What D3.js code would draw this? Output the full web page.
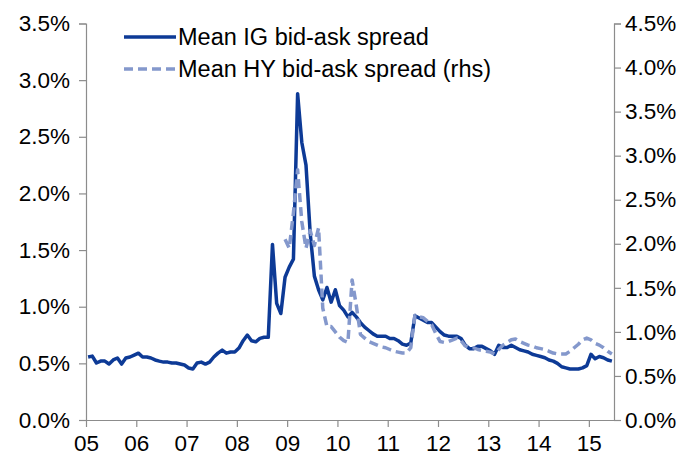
<!DOCTYPE html>
<html>
<head>
<meta charset="utf-8">
<script src="https://cdn.jsdelivr.net/npm/d3@7/dist/d3.min.js"></script>
<style>
html,body{margin:0;padding:0;background:#fff;}
svg{display:block;font-family:"Liberation Sans",Arial,sans-serif;}
</style>
</head>
<body>
<svg id="chart" width="687" height="456"></svg>
<script>
// Monthly data, Jan 2005 .. Jun 2015
const startYear = 2005;
const igSpread = [
0.556,0.564,0.503,0.52,0.52,0.494,0.53,0.547,0.494,0.547,0.556,0.573,
0.59,0.556,0.556,0.547,0.53,0.52,0.511,0.511,0.503,0.503,0.494,0.485,
0.459,0.45,0.503,0.511,0.494,0.511,0.556,0.59,0.617,0.59,0.60,0.60,
0.635,0.70,0.75,0.70,0.69,0.72,0.73,0.73,1.55,1.03,0.94,1.26,
1.35,1.42,2.88,2.45,2.25,1.65,1.27,1.15,1.06,1.17,1.04,1.15,
1.01,0.97,0.91,0.95,0.91,0.86,0.82,0.79,0.76,0.74,0.74,0.74,
0.72,0.72,0.70,0.67,0.66,0.68,0.92,0.90,0.88,0.86,0.86,0.82,
0.78,0.75,0.74,0.74,0.74,0.72,0.66,0.63,0.63,0.65,0.65,0.63,
0.61,0.58,0.66,0.64,0.64,0.66,0.64,0.62,0.61,0.60,0.58,0.57,
0.56,0.55,0.53,0.52,0.50,0.47,0.46,0.45,0.45,0.45,0.46,0.48,
0.58,0.54,0.56,0.55,0.53,0.52
];
// HY series starts Dec 2008 (index 47)
const hyStartIndex = 47;
const hySpread = [
2.05,
1.95,2.35,2.84,2.25,1.95,2.15,1.98,2.18,1.27,1.06,1.06,1.00,
0.94,0.90,0.88,1.59,1.30,0.97,0.93,0.89,0.87,0.85,0.83,0.82,
0.80,0.78,0.77,0.76,0.76,0.82,1.19,1.17,1.16,1.12,1.08,0.98,
0.89,0.88,0.89,0.91,0.93,0.90,0.84,0.82,0.82,0.80,0.79,0.78,
0.77,0.75,0.80,0.85,0.88,0.91,0.92,0.89,0.87,0.85,0.84,0.82,
0.81,0.80,0.78,0.76,0.75,0.75,0.75,0.78,0.82,0.86,0.91,0.93,
0.91,0.87,0.85,0.82,0.78,0.75
];
const yearTicks = [2005,2006,2007,2008,2009,2010,2011,2012,2013,2014,2015];
const yearLabels = ["05","06","07","08","09","10","11","12","13","14","15"];
const leftTicks = [0,0.5,1.0,1.5,2.0,2.5,3.0,3.5];
const rightTicks = [0,0.5,1.0,1.5,2.0,2.5,3.0,3.5,4.0,4.5];
const seriesNames = ["Mean IG bid-ask spread","Mean HY bid-ask spread (rhs)"];

const svg = d3.select("#chart");
const L = 86, R = 614, T = 23.5, B = 420;
const axisColor = "#8c8c8c";
const igColor = "#0d3a96";
const hyColor = "#8498cc";
const fontSize = 22.5;

const x = d3.scaleLinear().domain([2005, 2015.5]).range([L, R]);
const yL = d3.scaleLinear().domain([0, 3.5]).range([B, T]);
const yR = d3.scaleLinear().domain([0, 4.5]).range([B, T]);

const igData = igSpread.map((v,i)=>({t: startYear + (i+0.5)/12, v}));
const hyData = hySpread.map((v,i)=>({t: startYear + (hyStartIndex+i+0.5)/12, v}));

// Left axis
const gL = svg.append("g").attr("transform",`translate(${L},0)`)
  .call(d3.axisLeft(yL).tickValues(leftTicks).tickSize(7).tickPadding(8)
    .tickFormat(d=>d.toFixed(1)+"%"));
// Right axis
const gR = svg.append("g").attr("transform",`translate(${R},0)`)
  .call(d3.axisRight(yR).tickValues(rightTicks).tickSize(7).tickPadding(4)
    .tickFormat(d=>d.toFixed(1)+"%"));
// Bottom axis
const gB = svg.append("g").attr("transform",`translate(0,${B})`)
  .call(d3.axisBottom(x).tickValues(yearTicks).tickSize(7).tickPadding(6)
    .tickFormat((d,i)=>yearLabels[i]));
gB.select(".domain").attr("d",`M${L-7},0.5H${R+7}`);

[gL,gR,gB].forEach(g=>{
  g.select(".domain").attr("stroke",axisColor).attr("stroke-width",1.2);
  g.selectAll(".tick line").attr("stroke",axisColor).attr("stroke-width",1.2);
  g.selectAll(".tick text").attr("fill","#000").attr("font-size",fontSize)
    .attr("font-family","Liberation Sans, Arial, sans-serif");
});
gL.selectAll(".tick text").attr("x",-16);
gB.selectAll(".tick text").attr("dy","0.78em");

// Lines
const igLine = d3.line().x(d=>x(d.t)).y(d=>yL(d.v));
const hyLine = d3.line().x(d=>x(d.t)).y(d=>yR(d.v));
svg.append("path").datum(igData).attr("d",igLine)
  .attr("fill","none").attr("stroke",igColor).attr("stroke-width",3.5)
  .attr("stroke-linejoin","round");
svg.append("path").datum(hyData).attr("d",hyLine)
  .attr("fill","none").attr("stroke",hyColor).attr("stroke-width",3.5)
  .attr("stroke-dasharray","9,5").attr("stroke-linejoin","round");

// Legend
const leg = svg.append("g");
const legRows = [{y:37, color:igColor, dash:null},{y:69, color:hyColor, dash:"9,5"}];
legRows.forEach((r,i)=>{
  leg.append("line").attr("x1",124).attr("x2",176).attr("y1",r.y).attr("y2",r.y)
    .attr("stroke",r.color).attr("stroke-width",3.5)
    .attr("stroke-dasharray",r.dash);
  leg.append("text").attr("x",178).attr("y",r.y).attr("dy","0.35em")
    .attr("font-size",23.5).attr("fill","#000").text(seriesNames[i]);
});
</script>
</body>
</html>
